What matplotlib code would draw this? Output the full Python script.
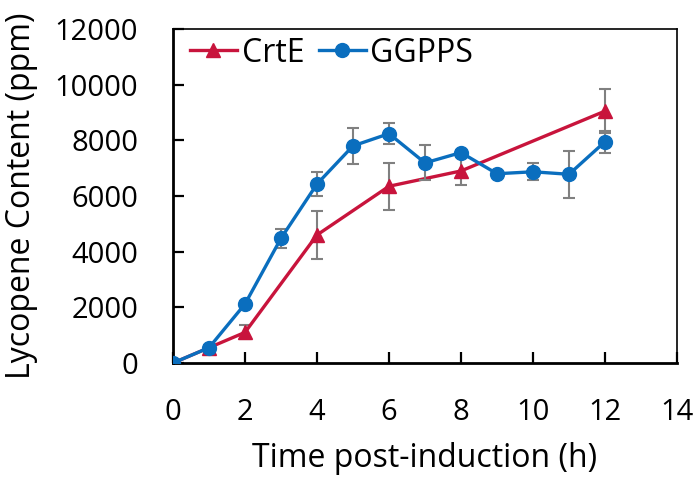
import matplotlib
matplotlib.use("Agg")
import matplotlib.pyplot as plt

plt.rcParams['font.family'] = ['Open Sans', 'DejaVu Sans']

crte_t = [0, 1, 2, 4, 6, 8, 12]
crte_v = [0, 550, 1100, 4600, 6350, 6900, 9050]
crte_e = [0, 0, 250, 850, 850, 500, 800]

ggpps_t = [0, 1, 2, 3, 4, 5, 6, 7, 8, 9, 10, 11, 12]
ggpps_v = [0, 550, 2120, 4480, 6430, 7800, 8240, 7190, 7560, 6800, 6870, 6780, 7950]
ggpps_e = [0, 80, 100, 350, 430, 650, 380, 630, 100, 0, 300, 850, 400]

xticks = [0, 2, 4, 6, 8, 10, 12, 14]
yticks = [0, 2000, 4000, 6000, 8000, 10000, 12000]

red = '#C8143C'
blue = '#0A6EBE'

fig = plt.figure(figsize=(6.99, 4.79), dpi=100)
ax = fig.add_axes([173/699, 1 - 363/479, (677-173)/699, (363-29)/479])

ax.errorbar(crte_t, crte_v, yerr=crte_e, color=red, marker='^', markersize=10,
            linewidth=2.4, ecolor='#808080', elinewidth=1.5, capsize=4, capthick=1.5,
            label='CrtE', zorder=3)
ax.errorbar(ggpps_t, ggpps_v, yerr=ggpps_e, color=blue, marker='o', markersize=10,
            linewidth=2.4, ecolor='#808080', elinewidth=1.5, capsize=4, capthick=1.5,
            label='GGPPS', zorder=4)

ax.set_xlim(0, 14)
ax.set_ylim(0, 12000)
ax.set_xticks(xticks)
ax.set_yticks(yticks)
ax.tick_params(direction='in', length=8, width=1.6, labelsize=21, pad=25)
for s in ax.spines.values():
    s.set_linewidth(1.2)
ax.spines['left'].set_linewidth(2.0)
ax.spines['bottom'].set_linewidth(2.0)

ax.set_xlabel('Time post-induction (h)', fontsize=23, labelpad=11)
ax.set_ylabel('Lycopene Content (ppm)', fontsize=23, labelpad=12)

handles, labels = ax.get_legend_handles_labels()
handles = [h[0] for h in handles]
ax.legend(handles, labels, loc='center left', ncol=2, frameon=False, fontsize=23,
          handlelength=1.47, handletextpad=0.15, columnspacing=0.45,
          borderaxespad=0, borderpad=0,
          bbox_to_anchor=((190-173)/504, (363-53)/334))

fig.savefig('out.png', dpi=100)
